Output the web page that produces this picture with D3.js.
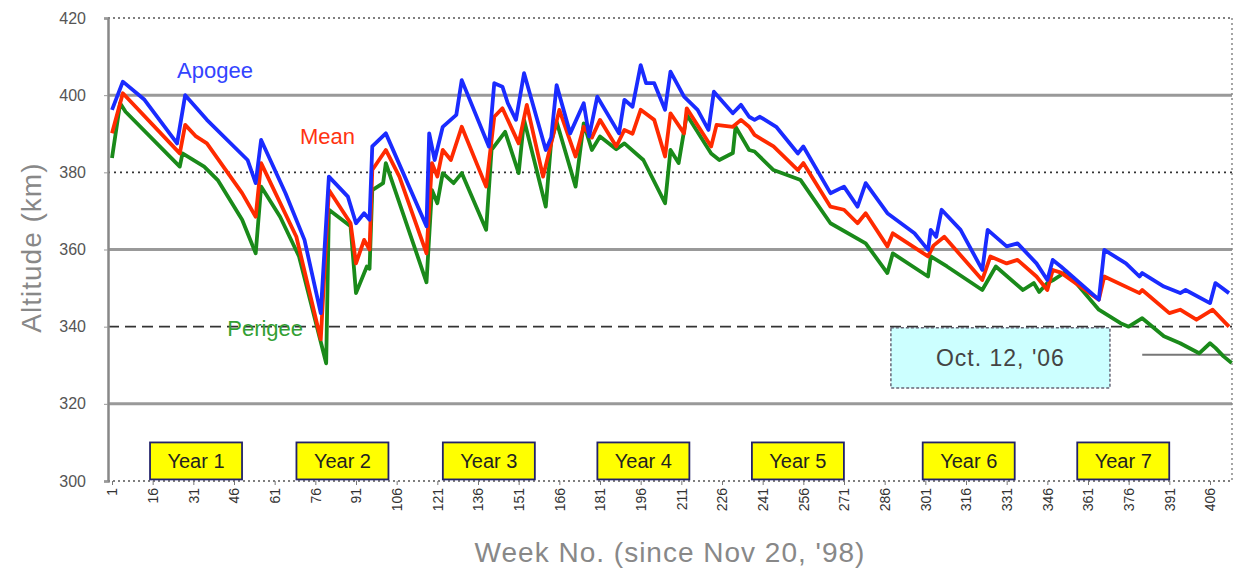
<!DOCTYPE html>
<html>
<head>
<meta charset="utf-8">
<script src="https://cdn.jsdelivr.net/npm/d3@7/dist/d3.min.js"></script>
<style>
  body { margin: 0; background: #fff; }
  svg { display: block; }
</style>
</head>
<body>
<div class="chart"></div>
<script>
    // Data (week no., altitude km)

    var apogee = [
        [1, 396.2], [5, 403.5], [13, 398.8], [25, 387.5], [28, 400], [36, 393.6], [51, 383.2], [54, 377.2],
        [56, 388.4], [65, 374.6], [72, 362.5], [78, 343.5], [81, 378.9], [88, 373.7], [91, 366.8], [94, 369.4],
        [96, 367.7], [97, 386.7], [102, 390.1], [117, 366], [118, 390.1], [120, 383.2], [123, 391.8], [128, 394.9],
        [130, 403.9], [140, 386.7], [142, 403.1], [145, 402.2], [147, 397.9], [150, 393.6], [153, 405.7], [161, 385.8],
        [163, 389], [165, 402.6], [170, 390.1], [175, 397.9], [177, 389.3], [180, 399.6], [188, 390.1], [190, 398.8],
        [193, 397], [196, 407.8], [198, 403.1], [201, 403.1], [205, 396.2], [207, 406.1], [212, 399.6], [217, 396.2],
        [221, 391], [223, 400.9], [230, 395.3], [233, 397.5], [236, 394.4], [238, 393.6], [240, 394.4], [246, 391.8],
        [254, 384.9], [256, 386.7], [266, 374.6], [271, 376.3], [276, 371.1], [279, 377.2], [287, 369.4], [297, 364.2],
        [302, 359.9], [303, 365.1], [305, 363.3], [307, 370.3], [314, 365.1], [322, 354.7], [324, 365.1], [331, 360.8],
        [335, 361.6], [342, 356.4], [346, 352.1], [348, 357.3], [351, 355.6], [365, 347], [367, 359.9], [375, 356.4],
        [380, 353], [381, 353.9], [389, 350.4], [395, 348.7], [397, 349.5], [406, 346.1], [408, 351.3], [413, 348.7]
    ];
    var mean = [
        [1, 390.1], [5, 400.5], [26, 384.9], [28, 392.3], [32, 389.3], [36, 387.5], [49, 374.6], [54, 368.5],
        [56, 382.4], [69, 363.3], [78, 336.7], [81, 375.4], [89, 366.8], [91, 356.4], [94, 362.5], [96, 360],
        [97, 380.6], [102, 385.8], [107, 378.9], [117, 359], [119, 382.4], [121, 378.9], [123, 385.8], [126, 383.2],
        [130, 391.8], [139, 376.3], [142, 394.4], [145, 396.6], [151, 387.5], [154, 397.5], [160, 378.9], [166, 396.2],
        [172, 384.1], [175, 391.8], [178, 389], [181, 393.6], [187, 386.7], [190, 391], [193, 390], [196, 396.2],
        [201, 393.6], [205, 384.1], [207, 395.3], [212, 390.1], [213, 396.6], [222, 386.7], [224, 392.3], [230, 391.8],
        [233, 393.6], [236, 391.8], [238, 389.7], [245, 386.7], [254, 380.6], [256, 382.4], [266, 371.1], [271, 370.3],
        [276, 366.8], [279, 369.4], [287, 360.8], [289, 364.2], [302, 358.2], [304, 361], [308, 363.3], [322, 352.1],
        [325, 358.2], [331, 356.4], [335, 357.3], [342, 353], [346, 349.5], [348, 354.7], [351, 354], [365, 347],
        [367, 353], [380, 348.7], [381, 349.5], [391, 343.5], [395, 344.4], [401, 341.8], [407, 344.4], [413, 340]
    ];
    var perigee = [
        [1, 383.7], [4, 397.9], [6, 395.7], [26, 381.5], [27, 384.9], [35, 381.5], [40, 378], [49, 367.7],
        [54, 359], [56, 376.3], [63, 368.5], [70, 358.2], [80, 330.5], [81, 370.3], [89, 366], [91, 348.7],
        [95, 355.6], [96, 355], [97, 375.4], [101, 377.2], [102, 382.4], [117, 351.5], [119, 375.4], [121, 372],
        [123, 379.8], [127, 377.2], [130, 379.8], [139, 365.1], [141, 385.8], [146, 390.5], [151, 379.8], [153, 393.6],
        [161, 371.1], [163, 388], [165, 393.1], [172, 376.3], [175, 392.7], [178, 385.8], [181, 389.3], [187, 386],
        [190, 387.5], [197, 383.2], [205, 372], [207, 385.8], [210, 382.4], [213, 394.9], [222, 384.9], [225, 383.2],
        [230, 385], [231, 391.8], [236, 385.8], [238, 385.4], [245, 380.6], [255, 378], [266, 366.8], [279, 361.6],
        [287, 353.9], [289, 359], [302, 353], [303, 358.2], [309, 355.6], [322, 349.5], [327, 355.6], [337, 349.5],
        [341, 351.3], [343, 349], [346, 351.3], [348, 352], [353, 354.3], [365, 344.4], [373, 340.9], [376, 340],
        [381, 342.2], [389, 337.5], [395, 335.7], [402, 333.1], [406, 335.7], [408, 334.5], [411, 332.3], [414, 330.6]
    ];

    var xTicks = [1, 16, 31, 46, 61, 76, 91, 106, 121, 136, 151, 166, 181, 196, 211, 226, 241, 256, 271, 286,
                  301, 316, 331, 346, 361, 376, 391, 406];
    var yTicks = [300, 320, 340, 360, 380, 400, 420];
    var yearLabels = ['Year 1', 'Year 2', 'Year 3', 'Year 4', 'Year 5', 'Year 6', 'Year 7'];
    var yearWeeks = [32, 86, 140, 197, 254, 317, 374];
    var seriesNames = ['Apogee', 'Mean', 'Perigee'];
    var noteText = "Oct. 12, '06";

    // Sizes

    var chartW = 1236;
    var chartH = 573;
    var plotLeft = 108;
    var plotRight = 1232;
    var plotTop = 18;
    var plotBottom = 481;

    var x = d3.scaleLinear().domain([1, 406]).range([112, 1210]);
    var y = d3.scaleLinear().domain([300, 420]).range([plotBottom, plotTop]);

    var svg = d3.select('.chart')
        .append('svg')
            .attr('width', chartW)
            .attr('height', chartH)
            .style('font-family', 'Arial, "Liberation Sans", sans-serif');

    // Grid lines, each altitude has its own style
    var gridStyle = {
        300: { stroke: '#555', width: 1.5, dash: '2,3' },
        320: { stroke: '#999', width: 3, dash: null },
        340: { stroke: '#333', width: 1.6, dash: '11,6' },
        360: { stroke: '#999', width: 3, dash: null },
        380: { stroke: '#333', width: 1.6, dash: '2,4' },
        400: { stroke: '#999', width: 3, dash: null },
        420: { stroke: '#555', width: 1.5, dash: '2,3' }
    };
    svg.selectAll('line.grid')
        .data(yTicks)
        .enter()
        .append('line')
            .attr('class', 'grid')
            .attr('x1', plotLeft)
            .attr('x2', plotRight)
            .attr('y1', function (d) { return y(d); })
            .attr('y2', function (d) { return y(d); })
            .attr('stroke', function (d) { return gridStyle[d].stroke; })
            .attr('stroke-width', function (d) { return gridStyle[d].width; })
            .attr('stroke-dasharray', function (d) { return gridStyle[d].dash; });

    // right border
    svg.append('line')
        .attr('x1', plotRight).attr('x2', plotRight)
        .attr('y1', plotTop).attr('y2', plotBottom)
        .attr('stroke', '#888')
        .attr('stroke-width', 1.5)
        .attr('stroke-dasharray', '2,3');

    // Y axis
    var yAxis = svg.append('g')
        .attr('transform', 'translate(' + plotLeft + ',0)')
        .call(d3.axisLeft(y).tickValues(yTicks).tickSize(4).tickPadding(18));
    yAxis.select('.domain').attr('stroke', '#888').attr('stroke-width', 2.5);
    yAxis.selectAll('line').attr('stroke', '#999');
    yAxis.selectAll('text')
        .attr('fill', '#555')
        .style('font-size', '16px');

    // X axis
    var xAxis = svg.append('g')
        .attr('transform', 'translate(0,' + plotBottom + ')')
        .call(d3.axisBottom(x).tickValues(xTicks).tickSize(4));
    xAxis.select('.domain').remove();
    xAxis.selectAll('line').attr('stroke', '#777');
    xAxis.selectAll('text')
        .attr('fill', '#333')
        .style('font-size', '14px')
        .attr('text-anchor', 'end')
        .attr('transform', 'rotate(-90)')
        .attr('x', -7)
        .attr('y', 0)
        .attr('dy', '0.35em');

    // Annotation box for the last date
    svg.append('rect')
        .attr('x', x(288.3))
        .attr('y', y(339.7))
        .attr('width', x(369.1) - x(288.3))
        .attr('height', y(324.1) - y(339.7))
        .attr('fill', '#ccffff')
        .attr('stroke', '#667')
        .attr('stroke-width', 1.5)
        .attr('stroke-dasharray', '3,2');
    svg.append('text')
        .text(noteText)
        .attr('x', x(328.7))
        .attr('y', y(332))
        .attr('dy', '0.35em')
        .attr('text-anchor', 'middle')
        .attr('fill', '#444')
        .style('font-size', '23px')
        .style('letter-spacing', '1px');

    // leader line
    svg.append('line')
        .attr('x1', x(381))
        .attr('x2', x(413.5))
        .attr('y1', y(332.7))
        .attr('y2', y(332.7))
        .attr('stroke', '#777')
        .attr('stroke-width', 2);

    // Lines
    var line = d3.line()
        .x(function (d) { return x(d[0]); })
        .y(function (d) { return y(d[1]); });

    var lines = [
        { name: 'Perigee', data: perigee, color: '#1a8a1a' },
        { name: 'Mean', data: mean, color: '#ff2a00' },
        { name: 'Apogee', data: apogee, color: '#1a2bff' }
    ];
    svg.selectAll('path.series')
        .data(lines)
        .enter()
        .append('path')
            .attr('class', 'series')
            .attr('d', function (d) { return line(d.data); })
            .attr('fill', 'none')
            .attr('stroke', function (d) { return d.color; })
            .attr('stroke-width', 3.8)
            .attr('stroke-linejoin', 'round');

    // Series labels
    var labelPos = {
        Apogee: { wk: 39, alt: 406.5, color: '#3344ff' },
        Mean: { wk: 80.5, alt: 389.3, color: '#ff3311' },
        Perigee: { wk: 57.5, alt: 339.6, color: '#33a033' }
    };
    svg.selectAll('text.series')
        .data(seriesNames)
        .enter()
        .append('text')
            .attr('class', 'series')
            .text(function (d) { return d; })
            .attr('x', function (d) { return x(labelPos[d].wk); })
            .attr('y', function (d) { return y(labelPos[d].alt); })
            .attr('dy', '0.35em')
            .attr('text-anchor', 'middle')
            .attr('fill', function (d) { return labelPos[d].color; })
            .style('font-size', '22px');

    // Year boxes
    var years = svg.selectAll('g.year')
        .data(yearLabels)
        .enter()
        .append('g')
            .attr('class', 'year')
            .attr('transform', function (d, i) { return 'translate(' + x(yearWeeks[i]) + ',' + y(305.2) + ')'; });
    years.append('rect')
        .attr('x', -46)
        .attr('y', -18.5)
        .attr('width', 92)
        .attr('height', 37)
        .attr('fill', '#ffff00')
        .attr('stroke', '#22226a')
        .attr('stroke-width', 1.8);
    years.append('text')
        .text(function (d) { return d; })
        .attr('text-anchor', 'middle')
        .attr('dy', '0.36em')
        .attr('fill', '#222')
        .style('font-size', '20px');

    // Axis titles
    svg.append('text')
        .text('Altitude (km)')
        .attr('transform', 'translate(31,' + y(360.5) + ') rotate(-90)')
        .attr('text-anchor', 'middle')
        .attr('dy', '0.35em')
        .attr('fill', '#888')
        .style('font-size', '28px')
        .style('letter-spacing', '1px');

    svg.append('text')
        .text("Week No. (since Nov 20, '98)")
        .attr('x', 670)
        .attr('y', 552)
        .attr('dy', '0.35em')
        .attr('text-anchor', 'middle')
        .attr('fill', '#888')
        .style('font-size', '28px')
        .style('letter-spacing', '1px');
</script>
</body>
</html>
